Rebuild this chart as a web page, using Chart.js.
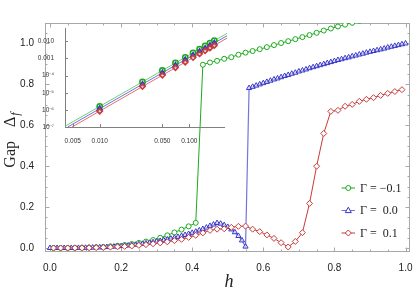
<!DOCTYPE html>
<html lang="en">
<head>
<meta charset="UTF-8">
<title>Gap vs h</title>
<script src="https://cdn.jsdelivr.net/npm/chart.js"></script>
<style>
  body { margin: 0; background: #fff; }
  #wrap { position: relative; width: 415px; height: 294px; }
  #wrap canvas { position: absolute; left: 0; top: 0; }
</style>
</head>
<body>
<div id="wrap">
  <canvas id="main" width="415" height="294"></canvas>
  <canvas id="inset" width="415" height="294"></canvas>
</div>
<script>
// ---- data ----
const seriesNames = ['Γ = −0.1', 'Γ =\u20020.0', 'Γ =\u20020.1'];

const greenH = [0.01,0.03,0.05,0.07,0.09,0.11,0.13,0.15,0.17,0.19,0.21,0.23,0.25,0.27,0.29,0.31,0.33,0.35,0.37,0.39,0.41,
  0.43,0.45,0.47,0.49,0.51,0.53,0.55,0.57,0.59,0.61,0.63,0.65,0.67,0.69,0.71,0.73,0.75,0.77,0.79,0.81,0.83,0.85,0.87,0.89];
const greenGap = [1.6e-6,4.3e-5,2.0e-4,5.5e-4,1.17e-3,2.13e-3,3.5e-3,5.4e-3,7.9e-3,0.011,0.0148,0.0195,0.025,0.0315,0.039,0.050,0.062,0.076,0.090,0.106,0.123,
  0.896,0.907,0.915,0.925,0.933,0.945,0.955,0.963,0.972,0.982,0.992,1.002,1.011,1.021,1.031,1.041,1.052,1.063,1.073,1.083,1.092,1.101,1.110,1.119];

const blueH = [0.00,0.01,0.02,0.03,0.04,0.05,0.06,0.07,0.08,0.09,0.10,0.11,0.12,0.13,0.14,0.15,0.16,0.17,0.18,0.19,
  0.20,0.21,0.22,0.23,0.24,0.25,0.26,0.27,0.28,0.29,0.30,0.31,0.32,0.33,0.34,0.35,0.36,0.37,0.38,0.39,
  0.40,0.41,0.42,0.43,0.44,0.45,0.46,0.47,0.48,0.49,0.50,0.51,0.52,0.53,0.54,0.55,
  0.56,0.57,0.58,0.59,0.60,0.61,0.62,0.63,0.64,0.65,0.66,0.67,0.68,0.69,0.70,0.71,0.72,0.73,0.74,0.75,
  0.76,0.77,0.78,0.79,0.80,0.81,0.82,0.83,0.84,0.85,0.86,0.87,0.88,0.89,0.90,0.91,0.92,0.93,0.94,0.95,
  0.96,0.97,0.98,0.99,1.00];
const blueGap = [0,1.2e-6,9.3e-6,3.1e-5,7.4e-5,1.45e-4,2.5e-4,4.0e-4,5.9e-4,8.5e-4,
  1.16e-3,1.54e-3,2.0e-3,2.55e-3,3.18e-3,3.9e-3,4.75e-3,5.7e-3,6.75e-3,7.95e-3,
  0.0093,0.0107,0.0124,0.0141,0.0160,0.0181,0.0204,0.0228,0.0255,0.0283,
  0.0313,0.0346,0.0380,0.0417,0.0456,0.0497,0.0541,0.0588,0.0637,0.0688,
  0.0742,0.080,0.086,0.093,0.100,0.108,0.115,0.122,0.119,0.112,
  0.103,0.091,0.077,0.059,0.037,0.007,
  0.782,0.788,0.794,0.800,0.806,0.812,0.818,0.824,0.829,0.835,0.841,0.846,0.852,0.857,0.863,0.868,0.873,0.879,0.884,0.889,
  0.894,0.899,0.904,0.909,0.914,0.919,0.923,0.928,0.932,0.937,0.941,0.946,0.950,0.955,0.959,0.963,0.967,0.971,0.975,0.980,
  0.984,0.988,0.992,0.996,1.000];

const redH = [0.01,0.03,0.05,0.07,0.09,0.11,0.13,0.15,0.17,0.19,0.21,0.23,0.25,0.27,0.29,0.31,0.33,0.35,0.37,0.39,
  0.41,0.43,0.45,0.47,0.49,0.51,0.53,0.55,0.57,0.59,0.61,0.63,0.65,0.67,0.69,0.71,0.73,0.75,0.77,0.79,
  0.81,0.83,0.85,0.87,0.89,0.91,0.93,0.95,0.97,0.99];
const redGap = [8.4e-7,2.3e-5,1.05e-4,2.9e-4,6.1e-4,1.12e-3,1.85e-3,2.84e-3,4.13e-3,5.76e-3,
  0.0078,0.0102,0.0131,0.0165,0.0205,0.0250,0.0302,0.0360,0.0425,0.0520,
  0.062,0.074,0.086,0.092,0.094,0.101,0.106,0.107,0.092,0.080,
  0.064,0.047,0.026,0.005,0.032,0.075,0.218,0.400,0.560,0.668,
  0.673,0.693,0.702,0.717,0.727,0.735,0.746,0.756,0.765,0.774];

// inset (log-log, small h)
const insetH = [0.01,0.03,0.05,0.07,0.09,0.11,0.13,0.15,0.17,0.19];
const insetGreen = [1.6e-6,4.3e-5,2.0e-4,5.5e-4,1.17e-3,2.13e-3,3.5e-3,5.4e-3,7.9e-3,0.011];
const insetBlue = [1.2e-6,3.1e-5,1.45e-4,4.0e-4,8.5e-4,1.54e-3,2.55e-3,3.9e-3,5.7e-3,7.95e-3];
const insetRed = [8.4e-7,2.3e-5,1.05e-4,2.9e-4,6.1e-4,1.12e-3,1.85e-3,2.84e-3,4.13e-3,5.76e-3];
// straight fit lines in the inset: end points
const fitGreenH = [0.0041, 0.264], fitGreenGap = [1.1e-7, 0.0294];
const fitBlueH = [0.0044, 0.264], fitBlueGap = [1.0e-7, 0.0213];
const fitRedH = [0.0049, 0.264], fitRedGap = [1.0e-7, 0.0155];

const xTicks = [0, 0.2, 0.4, 0.6, 0.8, 1.0];
const yTicks = [0, 0.2, 0.4, 0.6, 0.8, 1.0];
const insetXTicks = [0.005, 0.01, 0.05, 0.1];
const insetXLabels = ['0.005', '0.010', '0.050', '0.100'];
const insetYTicks = [1e-7, 1e-6, 1e-5, 1e-4, 1e-3, 1e-2];
const insetYLabels = ['10⁻⁷', '10⁻⁶', '10⁻⁵', '10⁻⁴', '0.001', '0.010'];

// ---- styles ----
const GREEN = '#1aaa1a', BLUE = '#3535c8', RED = '#c83a3a';
const BLUE_LINE = 'rgba(70,70,210,0.75)';
const SERIF = '"Liberation Serif", "DejaVu Serif", serif';
const SANS = '"Liberation Sans", Arial, sans-serif';

function pts(hs, gs) { return hs.map((h, i) => ({ x: h, y: gs[i] })); }

// frame + inward ticks, Mathematica style
const framePlugin = {
  id: 'frame',
  beforeDatasetsDraw(chart) {
    const { ctx, chartArea: a, scales } = chart;
    ctx.save();
    ctx.strokeStyle = '#a8a8a8';
    ctx.lineWidth = 1;
    ctx.strokeRect(a.left + 0.5, a.top + 0.5, a.right - a.left - 1, a.bottom - a.top - 1);
    ctx.beginPath();
    for (let k = 0; k <= 20; k++) {
      const v = k * 0.05;
      const len = k % 4 === 0 ? 4.5 : 2.5;
      const px = Math.round(scales.x.getPixelForValue(v)) + 0.5;
      ctx.moveTo(px, a.bottom); ctx.lineTo(px, a.bottom - len);
      ctx.moveTo(px, a.top); ctx.lineTo(px, a.top + len);
    }
    for (let k = 0; k <= 22; k++) {
      const v = k * 0.05;
      const len = k % 4 === 0 ? 4.5 : 2.5;
      const py = Math.round(scales.y.getPixelForValue(v)) + 0.5;
      ctx.moveTo(a.left, py); ctx.lineTo(a.left + len, py);
      ctx.moveTo(a.right, py); ctx.lineTo(a.right - len, py);
    }
    ctx.stroke();
    ctx.restore();
  }
};

function drawMarker(ctx, style, x, y, r) {
  ctx.beginPath();
  if (style === 'circle') {
    ctx.arc(x, y, r, 0, Math.PI * 2);
  } else if (style === 'triangle') {
    ctx.moveTo(x, y - r * 1.1);
    ctx.lineTo(x + r, y + r * 0.7);
    ctx.lineTo(x - r, y + r * 0.7);
    ctx.closePath();
  } else {
    ctx.moveTo(x, y - r); ctx.lineTo(x + r, y); ctx.lineTo(x, y + r); ctx.lineTo(x - r, y);
    ctx.closePath();
  }
  ctx.fill();
  ctx.stroke();
}

// axis titles and legend
const labelsPlugin = {
  id: 'labels',
  afterDraw(chart) {
    const ctx = chart.ctx;
    ctx.save();
    ctx.fillStyle = '#222';
    // x title
    ctx.font = 'italic 18px ' + SERIF;
    ctx.textAlign = 'center';
    ctx.textBaseline = 'alphabetic';
    ctx.fillText('h', 229, 287);
    // y title, rotated
    ctx.translate(15, 140);
    ctx.rotate(-Math.PI / 2);
    ctx.textAlign = 'left';
    ctx.font = '16px ' + SERIF;
    const wGap = ctx.measureText('Gap').width;
    const wD = ctx.measureText('Δ').width;
    ctx.font = 'italic 12px ' + SERIF;
    const wF = ctx.measureText('f').width;
    const total = wGap + 14 + wD + 1 + wF;
    let x0 = -total / 2;
    ctx.font = '16px ' + SERIF;
    ctx.fillText('Gap', x0, 0);
    x0 += wGap + 14;
    ctx.fillText('Δ', x0, 0);
    x0 += wD + 1;
    ctx.font = 'italic 12px ' + SERIF;
    ctx.fillText('f', x0, 4);
    ctx.restore();

    // legend
    const rows = [
      { y: 188, color: GREEN, line: GREEN, style: 'circle' },
      { y: 210.5, color: BLUE, line: BLUE_LINE, style: 'triangle' },
      { y: 233, color: RED, line: RED, style: 'diamond' }
    ];
    ctx.save();
    rows.forEach((r, i) => {
      ctx.strokeStyle = r.line;
      ctx.lineWidth = 1;
      ctx.beginPath();
      ctx.moveTo(341.5, r.y); ctx.lineTo(355, r.y);
      ctx.stroke();
      ctx.strokeStyle = r.color;
      ctx.fillStyle = '#fff';
      drawMarker(ctx, r.style, 348.3, r.y, r.style === 'circle' ? 2.5 : 3);
      ctx.fillStyle = '#222';
      ctx.font = '12px ' + SERIF;
      ctx.textAlign = 'left';
      ctx.textBaseline = 'middle';
      ctx.fillText(seriesNames[i], 360, r.y + 0.5);
    });
    ctx.restore();
  }
};

new Chart(document.getElementById('main'), {
  type: 'line',
  data: {
    datasets: [
      { label: seriesNames[0], data: pts(greenH, greenGap), borderColor: GREEN, borderWidth: 1,
        pointStyle: 'circle', pointRadius: 2.5, pointBorderWidth: 1, pointBackgroundColor: '#fff',
        pointBorderColor: GREEN, clip: 0, order: 3 },
      { label: seriesNames[1], data: pts(blueH, blueGap), borderColor: BLUE_LINE, borderWidth: 1.2,
        pointStyle: 'triangle', pointRadius: 3, pointBorderWidth: 1, pointBackgroundColor: 'rgba(255,255,255,0.6)',
        pointBorderColor: BLUE, clip: 0, order: 2 },
      { label: seriesNames[2], data: pts(redH, redGap), borderColor: RED, borderWidth: 1,
        pointStyle: 'rectRot', pointRadius: 3, pointBorderWidth: 1, pointBackgroundColor: '#fff',
        pointBorderColor: RED, clip: 0, order: 1 }
    ]
  },
  options: {
    responsive: false,
    animation: false,
    devicePixelRatio: 1,
    layout: { padding: { top: 23, right: 2, left: 0, bottom: 0 } },
    plugins: { legend: { display: false }, tooltip: { enabled: false } },
    scales: {
      x: {
        type: 'linear', min: -0.014, max: 1.0126,
        grid: { display: false }, border: { display: false },
        afterBuildTicks: s => { s.ticks = xTicks.map(v => ({ value: v })); },
        afterFit: s => { s.height = 42; },
        ticks: { font: { family: SANS, size: 10 }, color: '#222', padding: 2, maxRotation: 0, autoSkip: false,
                 callback: v => v.toFixed(1) }
      },
      y: {
        type: 'linear', min: -0.0195, max: 1.1,
        grid: { display: false }, border: { display: false },
        afterBuildTicks: s => { s.ticks = yTicks.map(v => ({ value: v })); },
        afterFit: s => { s.width = 45; },
        ticks: { font: { family: SANS, size: 10 }, color: '#222', padding: 3, autoSkip: false,
                 callback: v => v.toFixed(1) }
      }
    }
  },
  plugins: [framePlugin, labelsPlugin]
});

// inset axes: left and bottom lines with inward ticks
const insetAxesPlugin = {
  id: 'insetAxes',
  beforeDatasetsDraw(chart) {
    const { ctx, chartArea: a, scales } = chart;
    ctx.save();
    ctx.strokeStyle = '#808080';
    ctx.lineWidth = 1;
    ctx.beginPath();
    ctx.moveTo(a.left + 0.5, a.top); ctx.lineTo(a.left + 0.5, a.bottom + 0.5);
    ctx.lineTo(a.right, a.bottom + 0.5);
    insetXTicks.forEach(v => {
      const px = Math.round(scales.x.getPixelForValue(v)) + 0.5;
      ctx.moveTo(px, a.bottom); ctx.lineTo(px, a.bottom - 3);
    });
    insetYTicks.forEach(v => {
      const py = Math.round(scales.y.getPixelForValue(v)) + 0.5;
      ctx.moveTo(a.left, py); ctx.lineTo(a.left + 3, py);
    });
    ctx.stroke();
    ctx.restore();
  }
};

const insetPoint = (color, style, order) => ({
  showLine: false, pointStyle: style, pointRadius: 2.6, pointBorderWidth: 1.6,
  pointBorderColor: color, pointBackgroundColor: 'rgba(255,255,255,0.5)', order: order
});
const fitLine = (color, order) => ({
  borderColor: color, borderWidth: 1, pointRadius: 0, clip: false, order: order
});

new Chart(document.getElementById('inset'), {
  type: 'line',
  data: {
    datasets: [
      Object.assign({ data: pts(fitGreenH, fitGreenGap) }, fitLine('#6fcf6f', 6)),
      Object.assign({ data: pts(fitBlueH, fitBlueGap) }, fitLine('#7070e0', 5)),
      Object.assign({ data: pts(fitRedH, fitRedGap) }, fitLine('#e07070', 4)),
      Object.assign({ data: pts(insetH, insetGreen) }, insetPoint(GREEN, 'circle', 3)),
      Object.assign({ data: pts(insetH, insetBlue) }, insetPoint(BLUE, 'triangle', 2)),
      Object.assign({ data: pts(insetH, insetRed) }, insetPoint(RED, 'rectRot', 1))
    ]
  },
  options: {
    responsive: false,
    animation: false,
    devicePixelRatio: 1,
    layout: { padding: { left: 35, top: 28, right: 190, bottom: 147 } },
    plugins: { legend: { display: false }, tooltip: { enabled: false } },
    scales: {
      x: {
        type: 'logarithmic', min: 0.0041, max: 0.25,
        grid: { display: false }, border: { display: false },
        afterBuildTicks: s => { s.ticks = insetXTicks.map(v => ({ value: v })); },
        afterFit: s => { s.height = 20; },
        ticks: { font: { family: SANS, size: 6.5 }, color: '#333', padding: 2, maxRotation: 0, minRotation: 0,
                 autoSkip: false, callback: (v, i) => insetXLabels[i] }
      },
      y: {
        type: 'logarithmic', min: 1e-7, max: 0.06,
        grid: { display: false }, border: { display: false },
        afterBuildTicks: s => { s.ticks = insetYTicks.map(v => ({ value: v })); },
        afterFit: s => { s.width = 30; },
        ticks: { font: { family: SANS, size: 6.5 }, color: '#333', padding: 3, autoSkip: false,
                 callback: (v, i) => insetYLabels[i] }
      }
    }
  },
  plugins: [insetAxesPlugin]
});
</script>
</body>
</html>
